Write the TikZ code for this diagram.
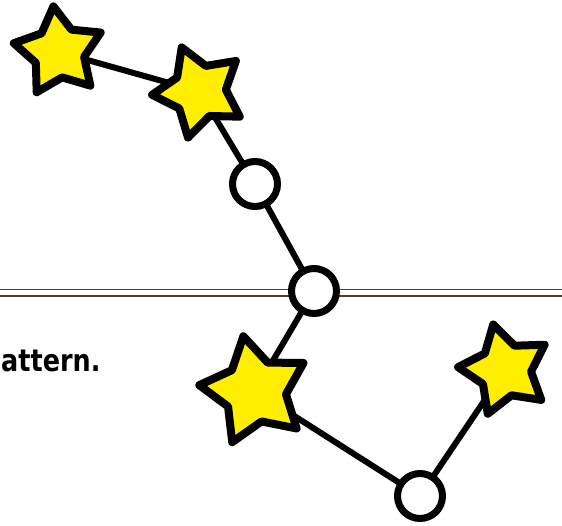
\documentclass[tikz,border=0pt]{standalone}
\usepackage{fontspec}
\usetikzlibrary{shapes.geometric,backgrounds}
\newfontfamily\labelfont{DejaVu Sans}
\definecolor{staryellow}{RGB}{255,238,0}
\definecolor{rulebrown}{RGB}{82,58,40}
\tikzset{
  starnode/.style={star, star points=5, star point ratio=1.8, draw=black, fill=staryellow,
    line width=8pt, line join=round, inner sep=0pt},
  dotnode/.style={circle, draw=black, fill=white, line width=7pt, inner sep=0pt, minimum size=45pt},
  link/.style={line width=6pt, draw=black},
  rule/.style={draw=rulebrown, line width=1.4pt}
}
\begin{document}
\begin{tikzpicture}[x=1pt,y=-1pt]
\useasboundingbox (0,0) rectangle (562,525);
\coordinate (rl1) at (0,289.5);
\coordinate (rr1) at (562,289.5);
\coordinate (rl2) at (0,296);
\coordinate (rr2) at (562,296);
\node[starnode, minimum size=92pt, rotate=7] (s1) at (59,52) {};
\node[starnode, minimum size=95pt, rotate=22] (s2) at (199.5,91.5) {};
\node[dotnode] (c1) at (255,184) {};
\node[dotnode] (c2) at (314,291) {};
\node[starnode, minimum size=112pt, rotate=12] (s3) at (255,391) {};
\node[dotnode] (c3) at (420,496) {};
\node[starnode, minimum size=94pt, rotate=14.5] (s4) at (505,370) {};
\node[anchor=base west, inner sep=0pt, yscale=1.2, font=\labelfont\bfseries\fontsize{25.5}{30}\selectfont] (txt) at (1,371) {attern.};
\begin{scope}[on background layer]
\draw[rule] (rl1) -- (rr1);
\draw[rule] (rl2) -- (rr2);
\draw[link] (s1.center) -- (s2.center);
\draw[link] (s2.center) -- (c1.center);
\draw[link] (c1.center) -- (c2.center);
\draw[link] (c2.center) -- (s3.center);
\draw[link] (s3.center) -- (c3.center);
\draw[link] (c3.center) -- (s4.center);
\end{scope}
\end{tikzpicture}
\end{document}
